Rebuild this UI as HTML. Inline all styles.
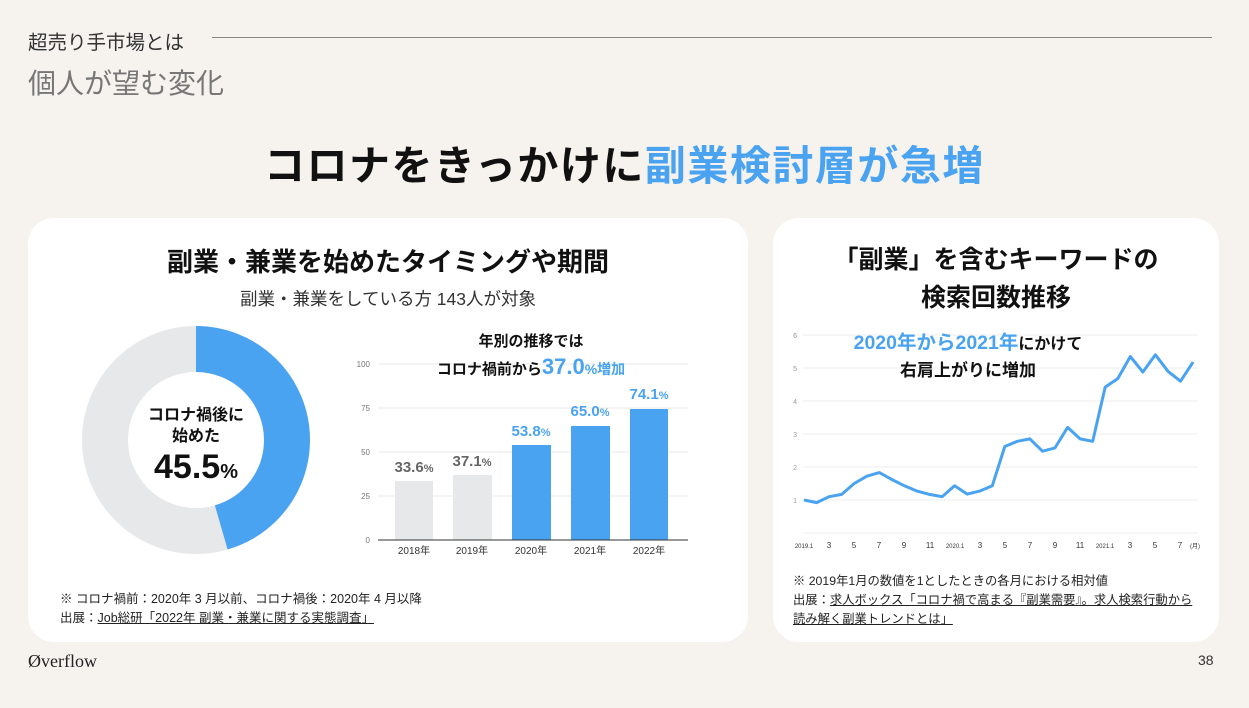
<!DOCTYPE html>
<html><head><meta charset="utf-8"><style>
body{margin:0;width:1249px;height:708px;background:#f6f3ef;position:relative;overflow:hidden;font-family:"Liberation Sans","Noto Sans CJK JP",sans-serif;color:#222}
.a{position:absolute;white-space:nowrap}
.card{position:absolute;background:#fff;border-radius:26px}
</style></head><body>
<div class="a" style="left:28px;top:26px;font-size:19.5px;color:#333">超売り手市場とは</div>
<div style="position:absolute;left:212px;top:37px;width:1000px;height:1px;background:#888"></div>
<div class="a" style="left:28px;top:62px;font-size:28px;color:#777">個人が望む変化</div>
<div class="a" style="left:0;width:1249px;text-align:center;top:132px;font-size:41px;font-weight:bold;color:#111;letter-spacing:1.5px">コロナをきっかけに<span style="color:#4aa3f0">副業検討層が急増</span></div>
<div class="card" style="left:28px;top:218px;width:720px;height:424px"></div>
<div class="card" style="left:773px;top:218px;width:446px;height:424px"></div>
<div class="a" style="left:28px;width:720px;text-align:center;top:242px;font-size:26px;font-weight:bold;color:#111">副業・兼業を始めたタイミングや期間</div>
<div class="a" style="left:28px;width:720px;text-align:center;top:286px;font-size:17.5px;color:#333">副業・兼業をしている方 143人が対象</div>
<div class="a" style="left:773px;width:446px;text-align:center;top:241px;font-size:25px;font-weight:bold;color:#111;line-height:38px">「副業」を含むキーワードの<br>検索回数推移</div>
<svg width="1249" height="708" style="position:absolute;left:0;top:0" font-family="Liberation Sans, Noto Sans CJK JP, sans-serif">
<circle cx="196" cy="440" r="91" fill="none" stroke="#e6e8ea" stroke-width="46"/>
<circle cx="196" cy="440" r="91" fill="none" stroke="#4aa3f0" stroke-width="46" stroke-dasharray="260.2 600" transform="rotate(-90 196 440)"/>
<text x="196" y="420" text-anchor="middle" font-size="16" font-weight="bold" fill="#111">コロナ禍後に</text>
<text x="196" y="441" text-anchor="middle" font-size="16" font-weight="bold" fill="#111">始めた</text>
<text x="196" y="478" text-anchor="middle" font-size="34" font-weight="bold" fill="#111">45.5<tspan font-size="20">%</tspan></text>
<g stroke="#e8e8e8" stroke-width="1">
<line x1="378" y1="364" x2="688" y2="364"/><line x1="378" y1="408" x2="688" y2="408"/><line x1="378" y1="452" x2="688" y2="452"/><line x1="378" y1="496" x2="688" y2="496"/></g>
<g font-size="8" fill="#777" text-anchor="end"><text x="370" y="367">100</text><text x="370" y="411">75</text><text x="370" y="455">50</text><text x="370" y="499">25</text><text x="370" y="543">0</text></g>
<rect x="395" y="481" width="38" height="59" fill="#e6e8ea"/><rect x="453" y="475" width="39" height="65" fill="#e6e8ea"/>
<rect x="512" y="445" width="39" height="95" fill="#4aa3f0"/><rect x="571" y="426" width="39" height="114" fill="#4aa3f0"/><rect x="630" y="409" width="38" height="131" fill="#4aa3f0"/>
<line x1="378" y1="540" x2="688" y2="540" stroke="#333" stroke-width="1"/>
<g font-size="10" fill="#333" text-anchor="middle"><text x="414" y="554">2018年</text><text x="472" y="554">2019年</text><text x="531" y="554">2020年</text><text x="590" y="554">2021年</text><text x="649" y="554">2022年</text></g>
<g font-size="15" font-weight="bold" text-anchor="middle"><text x="414" y="472" fill="#666">33.6<tspan font-size="11">%</tspan></text><text x="472" y="466" fill="#666">37.1<tspan font-size="11">%</tspan></text>
<text x="531" y="436" fill="#4aa3f0">53.8<tspan font-size="11">%</tspan></text><text x="590" y="416" fill="#4aa3f0">65.0<tspan font-size="11">%</tspan></text><text x="649" y="399" fill="#4aa3f0">74.1<tspan font-size="11">%</tspan></text></g>
<text x="531" y="346" text-anchor="middle" font-size="15" font-weight="bold" fill="#111">年別の推移では</text>
<text x="531" y="374" text-anchor="middle" font-size="15" font-weight="bold" fill="#111">コロナ禍前から<tspan fill="#4aa3f0" font-size="22">37.0</tspan><tspan fill="#4aa3f0" font-size="14">%増加</tspan></text>
<g stroke="#eeeeee" stroke-width="1"><line x1="803" y1="335" x2="1198" y2="335"/><line x1="803" y1="368" x2="1198" y2="368"/><line x1="803" y1="401" x2="1198" y2="401"/><line x1="803" y1="434" x2="1198" y2="434"/><line x1="803" y1="467" x2="1198" y2="467"/><line x1="803" y1="500" x2="1198" y2="500"/><line x1="803" y1="533" x2="1198" y2="533"/></g>
<g font-size="7" fill="#999" text-anchor="end"><text x="797" y="338">6</text><text x="797" y="371">5</text><text x="797" y="404">4</text><text x="797" y="437">3</text><text x="797" y="470">2</text><text x="797" y="503">1</text></g>
<polyline fill="none" stroke="#4aa3f0" stroke-width="3" stroke-linejoin="round" points="804,500 816.6,502.6 829.1,496.7 841.7,494.4 854.2,483.5 866.8,476.2 879.3,472.6 891.9,479.5 904.4,485.8 917,491.1 929.5,494.4 942.1,496.7 954.6,485.8 967.2,494.1 979.7,491.1 992.3,485.8 1004.8,446.5 1017.4,441.3 1029.9,438.9 1042.5,451.2 1055,447.9 1067.6,427.4 1080.1,438.9 1092.7,441.3 1105.2,387.1 1117.8,378.6 1130.3,356.5 1142.9,372 1155.4,354.8 1168,371.3 1180.5,381.2 1193.1,362.1"/>
<g font-size="8" fill="#333" text-anchor="middle"><text x="804" y="548" font-size="6">2019.1</text><text x="829" y="548">3</text><text x="854" y="548">5</text><text x="879" y="548">7</text><text x="904" y="548">9</text><text x="930" y="548">11</text><text x="955" y="548" font-size="6">2020.1</text><text x="980" y="548">3</text><text x="1005" y="548">5</text><text x="1030" y="548">7</text><text x="1055" y="548">9</text><text x="1080" y="548">11</text><text x="1105" y="548" font-size="6">2021.1</text><text x="1130" y="548">3</text><text x="1155" y="548">5</text><text x="1180" y="548">7</text><text x="1195" y="548" font-size="6">(月)</text></g>
<text x="968" y="349" text-anchor="middle" font-size="19.5" font-weight="bold" fill="#111"><tspan fill="#4aa3f0">2020年から2021年</tspan><tspan font-size="16">にかけて</tspan></text>
<text x="968" y="376" text-anchor="middle" font-size="17" font-weight="bold" fill="#111">右肩上がりに増加</text>
</svg>
<div class="a" style="left:60px;top:590px;font-size:12.5px;color:#222;line-height:19px">※ コロナ禍前：2020年 3 月以前、コロナ禍後：2020年 4 月以降<br>出展：<u>Job総研「2022年 副業・兼業に関する実態調査」</u></div>
<div class="a" style="left:793px;top:572px;font-size:12.3px;color:#222;line-height:19px">※ 2019年1月の数値を1としたときの各月における相対値<br>出展：<u>求人ボックス「コロナ禍で高まる『副業需要』。求人検索行動から</u><br><u>読み解く副業トレンドとは」</u></div>
<div class="a" style="left:28px;top:651px;font-size:18px;color:#222;font-family:'Liberation Serif',serif">Øverflow</div>
<div class="a" style="left:1198px;top:652px;font-size:14px;color:#333">38</div>
</body></html>
